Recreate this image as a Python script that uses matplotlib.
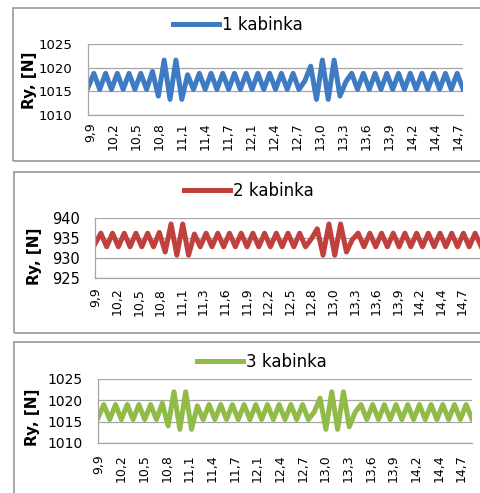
import numpy as np
import matplotlib.pyplot as plt
from matplotlib.patches import Rectangle

W, H = 481, 493

# Ry [N] at the successive peaks / troughs of each cabin record
ry_cab1 = [1015.8,
           1018.8, 1015.4, 1018.8, 1015.4, 1018.8, 1015.4, 1018.8, 1015.4, 1018.8, 1015.4, 1019.2,
           1014.0, 1021.6, 1013.3, 1021.6, 1013.3,
           1018.5, 1015.4, 1018.8, 1015.4, 1018.8, 1015.4, 1018.8, 1015.4, 1018.8, 1015.4,
           1018.8, 1015.4, 1018.8, 1015.4, 1018.8, 1015.4, 1018.8, 1015.4, 1018.8, 1015.4,
           1017.2, 1020.3, 1013.3, 1021.6, 1013.3, 1021.6, 1014.0, 1017.0,
           1018.8, 1015.4, 1018.8, 1015.4, 1018.8, 1015.4, 1018.8, 1015.4, 1018.8, 1015.4,
           1018.8, 1015.4, 1018.8, 1015.4, 1018.8, 1015.4, 1018.8, 1015.4, 1018.8, 1015.5]

ry_cab2 = [933.5,
           936.2, 932.8, 936.2, 932.8, 936.2, 932.8, 936.2, 932.8, 936.2, 932.8, 936.4,
           931.5, 938.5, 930.7, 938.5, 930.7,
           936.0, 932.8, 936.2, 932.8, 936.2, 932.8, 936.2, 932.8, 936.2, 932.8,
           936.2, 932.8, 936.2, 932.8, 936.2, 932.8, 936.2, 932.8, 936.2, 932.8,
           934.8, 937.3, 930.7, 938.5, 930.7, 938.5, 931.5, 934.6,
           936.2, 932.8, 936.2, 932.8, 936.2, 932.8, 936.2, 932.8, 936.2, 932.8,
           936.2, 932.8, 936.2, 932.8, 936.2, 932.8, 936.2, 932.8, 936.2, 932.8,
           936.2, 933.0]

ry_cab3 = [1015.9,
           1019.0, 1015.5, 1019.0, 1015.5, 1019.0, 1015.5, 1019.0, 1015.5, 1019.0, 1015.5, 1019.3,
           1014.0, 1022.0, 1013.2, 1022.0, 1013.2,
           1018.7, 1015.5, 1019.0, 1015.5, 1019.0, 1015.5, 1019.0, 1015.5, 1019.0, 1015.5,
           1019.0, 1015.5, 1019.0, 1015.5, 1019.0, 1015.5, 1019.0, 1015.5, 1019.0, 1015.5,
           1017.3, 1020.5, 1013.2, 1022.0, 1013.2, 1022.0, 1013.8, 1017.2,
           1019.0, 1015.5, 1019.0, 1015.5, 1019.0, 1015.5, 1019.0, 1015.5, 1019.0, 1015.5,
           1019.0, 1015.5, 1019.0, 1015.5, 1019.0, 1015.5, 1019.0, 1015.5, 1019.0, 1015.6]

# time span of each record [s]
span_cab1 = (9.87, 14.76)
span_cab2 = (9.89, 14.94)
span_cab3 = (9.89, 14.84)

ticks_a = ["9,9", "10,2", "10,5", "10,8", "11,1", "11,4", "11,7", "12,1", "12,4",
           "12,7", "13,0", "13,3", "13,6", "13,9", "14,2", "14,4", "14,7"]
ticks_b = ["9,9", "10,2", "10,5", "10,8", "11,1", "11,3", "11,6", "11,9", "12,2",
           "12,5", "12,8", "13,0", "13,3", "13,6", "13,9", "14,2", "14,4", "14,7"]

names = ["1 kabinka", "2 kabinka", "3 kabinka"]
colors = ["#3f7bc3", "#c0403e", "#91bb48"]
yranges = [(1010, 1025), (925, 940), (1010, 1025)]


def px_box(left, top, right, bottom):
    return [left / W, 1 - bottom / H, (right - left) / W, (bottom - top) / H]


panels = [
    # data, span, xlim right, ticks, axes box, frame box, legend centre, ylabel centre, xtick pad, ytick size
    (ry_cab1, span_cab1, span_cab1[1], ticks_a, (88, 44, 463, 115), (13, 8, 520, 161), (238, 25), (30, 80), 5, 9.5),
    (ry_cab2, span_cab2, 14.98, ticks_b, (95, 218, 484, 278), (14, 172, 520, 333), (249, 191), (34, 256), 7, 10.5),
    (ry_cab3, span_cab3, span_cab3[1], ticks_a, (98, 379, 472, 443), (14, 342, 520, 540), (262, 362), (33, 417), 8, 10),
]

fig = plt.figure(figsize=(W / 100, H / 100), dpi=100)
grey = "#a6a6a6"

for k, (vals, span, xr, ticks, abox, fbox, leg, ylab, xpad, ysize) in enumerate(panels):
    l, t, r, b = fbox
    fig.add_artist(Rectangle((l / W, 1 - b / H), (r - l) / W, (b - t) / H,
                             transform=fig.transFigure, fill=False, ec="#a0a0a0", lw=1.3))

    ax = fig.add_axes(px_box(*abox))
    tt = np.linspace(span[0], span[1], len(vals))
    ax.plot(tt, vals, color=colors[k], lw=3.6, solid_joinstyle="round", label=names[k])

    lo, hi = yranges[k]
    ax.set_ylim(lo, hi)
    ax.set_yticks(np.arange(lo, hi + 1, 5))
    ax.set_xlim(span[0], xr)
    ax.set_xticks(np.linspace(9.9, 14.7, len(ticks)))
    ax.set_xticklabels(ticks, rotation=90)

    ax.grid(axis="y", color=grey, lw=0.9)
    ax.set_axisbelow(True)
    for side in ("top", "right"):
        ax.spines[side].set_visible(False)
    for side in ("left", "bottom"):
        ax.spines[side].set_color(grey)
        ax.spines[side].set_linewidth(0.9)
    ax.tick_params(axis="y", length=0, labelsize=ysize, pad=11)
    ax.tick_params(axis="x", length=0, labelsize=9, pad=xpad)

    ax.legend(loc="center", bbox_to_anchor=(leg[0] / W, 1 - leg[1] / H),
              bbox_transform=fig.transFigure, frameon=False, fontsize=12,
              handlelength=2.75, handletextpad=0.15, borderpad=0, borderaxespad=0)

    fig.text(ylab[0] / W, 1 - ylab[1] / H, "Ry, [N]", rotation=90, ha="center",
             va="center", fontsize=11, fontweight="bold")

fig.savefig("out.png", dpi=100)
